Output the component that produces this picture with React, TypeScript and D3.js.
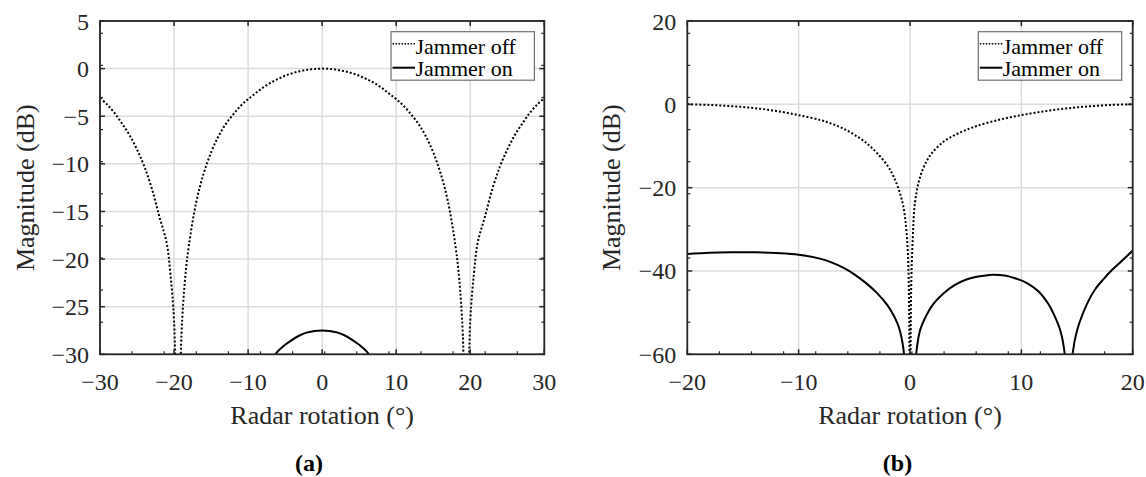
import React from 'react';
import * as d3 from 'd3';

// ---------- Panel (a) data ----------
const A_X_TICKS = [-30, -20, -10, 0, 10, 20, 30];
const A_Y_TICKS = [5, 0, -5, -10, -15, -20, -25, -30];
const A_OFF_X = [-30, -29, -28, -27, -26, -25, -24, -23, -22, -21, -20.5, -20, -19.45, -19, -18.5, -18, -17, -16, -15, -14, -13, -12, -11, -10, -9, -8, -7, -6, -5, -4, -3, -2, -1, 0,
  1, 2, 3, 4, 5, 6, 7, 8, 9, 10, 11, 12, 13, 14, 15, 16, 17, 18, 18.5, 19, 19.45, 20, 20.5, 21, 22, 23, 24, 25, 26, 27, 28, 29, 30];
const A_OFF_Y = [-3.1, -3.8, -4.7, -5.8, -7.0, -8.5, -10.3, -12.6, -15.5, -18.3, -21.5, -26.5, -45, -28, -22, -18.6, -14.0, -11.0, -8.8, -7.1, -5.8, -4.8, -3.9, -3.2, -2.6, -2.0, -1.5, -1.1, -0.75, -0.48, -0.27, -0.12, -0.03, 0,
  -0.03, -0.12, -0.27, -0.48, -0.75, -1.1, -1.5, -2.0, -2.6, -3.2, -3.9, -4.8, -5.8, -7.1, -8.8, -11.0, -14.0, -18.6, -22, -28, -45, -26.5, -21.5, -18.3, -15.5, -12.6, -10.3, -8.5, -7.0, -5.8, -4.7, -3.8, -3.1];
const A_ON_X = [-7, -6.3, -6, -5, -4, -3, -2, -1, 0, 1, 2, 3, 4, 5, 6, 6.3, 7];
const A_ON_Y = [-31.2, -30, -29.7, -29.0, -28.45, -28.0, -27.7, -27.55, -27.5, -27.55, -27.7, -28.0, -28.45, -29.0, -29.7, -30, -31.2];

// ---------- Panel (b) data ----------
const B_X_TICKS = [-20, -10, 0, 10, 20];
const B_Y_TICKS = [20, 0, -20, -40, -60];
const B_OFF_X = [-20, -18, -16, -14, -12, -10, -8, -7, -6, -5, -4, -3, -2, -1.5, -1, -0.6, -0.3, -0.12, 0,
  0.1, 0.25, 0.45, 0.9, 1.5, 2, 3, 4, 5, 6, 8, 10, 12, 14, 16, 18, 20];
const B_OFF_Y = [0, -0.15, -0.45, -0.9, -1.6, -2.6, -3.8, -4.7, -5.8, -7.3, -9.1, -11.6, -14.8, -17.2, -20.5, -24.5, -31, -42, -80,
  -45, -32, -23.5, -17.5, -13.6, -11.6, -9.0, -7.4, -6.2, -5.2, -3.7, -2.6, -1.7, -1.0, -0.5, -0.15, 0];
const B_ON_X = [-20, -18, -16, -14, -12, -10, -8, -7, -6, -5, -4, -3, -2, -1.5, -1, -0.6, 0,
  0.55, 0.9, 1.5, 2.1, 3, 4, 5, 6, 7, 7.5, 8.5, 9.5, 10.5, 11.5, 12.4, 12.9, 13.5, 13.9, 14.25,
  14.6, 15.0, 15.9, 16.6, 17.4, 18.2, 18.9, 20];
const B_ON_Y = [-35.9, -35.6, -35.5, -35.5, -35.7, -36.1, -37.1, -38.0, -39.2, -40.8, -42.8, -45.2, -48.3, -50.5, -53.5, -58.5, -80,
  -60, -54.3, -50.5, -47.9, -45.4, -43.4, -42.1, -41.4, -41.0, -40.9, -41.1, -41.8, -42.9, -44.8, -47.8, -50.3, -54.3, -60, -80,
  -60, -54.3, -47.9, -44.5, -41.9, -39.6, -37.9, -35.1];

const LEGEND = ['Jammer off', 'Jammer on'];
const X_LABEL = 'Radar rotation (\u00B0)';
const Y_LABEL = 'Magnitude (dB)';

const FONT = 'Liberation Serif';

const fmt = (v: number) => (v < 0 ? '\u2212' + Math.abs(v) : String(v));

type PanelProps = {
  id: string;
  left: number; right: number; top: number; bottom: number;
  xDomain: [number, number]; yDomain: [number, number];
  xTicks: number[]; yTicks: number[];
  offX: number[]; offY: number[]; onX: number[]; onY: number[];
  legendX: number; ylabelX: number; captionX: number; caption: string;
};

function Panel(p: PanelProps) {
  const x = d3.scaleLinear().domain(p.xDomain).range([p.left, p.right]);
  const y = d3.scaleLinear().domain(p.yDomain).range([p.bottom, p.top]);
  const line = d3.line<[number, number]>().x(d => x(d[0])).y(d => y(d[1])).curve(d3.curveCatmullRom.alpha(0.5));
  const offPts = p.offX.map((v, i) => [v, p.offY[i]] as [number, number]);
  const onPts = p.onX.map((v, i) => [v, p.onY[i]] as [number, number]);
  const minorStep = 32.1;
  const minorX = d3.range(p.left + minorStep, p.right - 2, minorStep);
  const minorY = d3.range(p.bottom - minorStep, p.top + 2, -minorStep);
  const axisColor = '#262626';
  const majLen = 5, minLen = 3;
  const cx = (p.left + p.right) / 2;
  const cy = (p.top + p.bottom) / 2;
  const lx = p.legendX, ly = 31.7, lw = 143.4, lh = 48.5;
  const txt = { fontFamily: FONT };
  return (
    <g>
      <defs>
        <clipPath id={'clip-' + p.id}>
          <rect x={p.left} y={p.top} width={p.right - p.left} height={p.bottom - p.top} />
        </clipPath>
      </defs>
      {/* grid */}
      {p.xTicks.map(t => (
        <line key={'gx' + t} x1={x(t)} x2={x(t)} y1={p.top} y2={p.bottom} stroke="#dcdcdc" strokeWidth={1.5} />
      ))}
      {p.yTicks.map(t => (
        <line key={'gy' + t} x1={p.left} x2={p.right} y1={y(t)} y2={y(t)} stroke="#dcdcdc" strokeWidth={1.5} />
      ))}
      {/* curves */}
      <g clipPath={`url(#clip-${p.id})`}>
        <path d={line(offPts) || ''} fill="none" stroke="#000" strokeWidth={2} strokeDasharray="2 2" />
        <path d={line(onPts) || ''} fill="none" stroke="#000" strokeWidth={2} />
      </g>
      {/* ticks */}
      {p.xTicks.map(t => (
        <g key={'tx' + t}>
          <line x1={x(t)} x2={x(t)} y1={p.bottom} y2={p.bottom - majLen} stroke={axisColor} strokeWidth={1.5} />
          <line x1={x(t)} x2={x(t)} y1={p.top} y2={p.top + majLen} stroke={axisColor} strokeWidth={1.5} />
          <text x={x(t)} y={p.bottom + 36} textAnchor="middle" fontSize={24} style={txt} fill="#262626">{fmt(t)}</text>
        </g>
      ))}
      {p.yTicks.map(t => (
        <g key={'ty' + t}>
          <line x1={p.left} x2={p.left + majLen} y1={y(t)} y2={y(t)} stroke={axisColor} strokeWidth={1.5} />
          <line x1={p.right} x2={p.right - majLen} y1={y(t)} y2={y(t)} stroke={axisColor} strokeWidth={1.5} />
          <text x={p.left - 11} y={y(t) + 8.5} textAnchor="end" fontSize={24} style={txt} fill="#262626">{fmt(t)}</text>
        </g>
      ))}
      {minorX.map((px, i) => (
        <line key={'mx' + i} x1={px} x2={px} y1={p.bottom} y2={p.bottom - minLen} stroke={axisColor} strokeWidth={1.2} />
      ))}
      {minorY.map((py, i) => (
        <g key={'my' + i}>
          <line x1={p.left} x2={p.left + minLen} y1={py} y2={py} stroke={axisColor} strokeWidth={1.2} />
          <line x1={p.right} x2={p.right - minLen} y1={py} y2={py} stroke={axisColor} strokeWidth={1.2} />
        </g>
      ))}
      {/* box */}
      <rect x={p.left} y={p.top} width={p.right - p.left} height={p.bottom - p.top} fill="none" stroke={axisColor} strokeWidth={1.8} />
      {/* legend */}
      <rect x={lx} y={ly} width={lw} height={lh} fill="#fff" stroke="#6e6e6e" strokeWidth={1.2} />
      <line x1={lx + 1.5} x2={lx + 24} y1={ly + 12} y2={ly + 12} stroke="#000" strokeWidth={1.5} strokeDasharray="1.5 1.5" />
      <line x1={lx + 1.5} x2={lx + 24} y1={ly + 36} y2={ly + 36} stroke="#000" strokeWidth={2} />
      <text x={lx + 24.5} y={ly + 21.8} fontSize={22} style={txt} fill="#000">{LEGEND[0]}</text>
      <text x={lx + 24.5} y={ly + 44.5} fontSize={22} style={txt} fill="#000">{LEGEND[1]}</text>
      {/* labels */}
      <text x={cx} y={424} textAnchor="middle" fontSize={26} style={txt} fill="#262626">{X_LABEL}</text>
      <text transform={`translate(${p.ylabelX},${cy}) rotate(-90)`} textAnchor="middle" fontSize={26} style={txt} fill="#262626">{Y_LABEL}</text>
      <text x={p.captionX} y={471} textAnchor="middle" fontSize={24} fontWeight="bold" style={txt} fill="#000">{p.caption}</text>
    </g>
  );
}

export default function App() {
  return (
    <svg width={1146} height={477} style={{ position: 'absolute', left: 0, top: 0, background: '#fff' }}>
      <rect width={1146} height={477} fill="#fff" />
      <Panel id="a" left={100} right={544.3} top={21} bottom={354.3}
        xDomain={[-30, 30]} yDomain={[-30, 5]} xTicks={A_X_TICKS} yTicks={A_Y_TICKS}
        offX={A_OFF_X} offY={A_OFF_Y} onX={A_ON_X} onY={A_ON_Y}
        legendX={391} ylabelX={34} captionX={309} caption="(a)" />
      <Panel id="b" left={687.3} right={1132.7} top={21} bottom={354.3}
        xDomain={[-20, 20]} yDomain={[-60, 20]} xTicks={B_X_TICKS} yTicks={B_Y_TICKS}
        offX={B_OFF_X} offY={B_OFF_Y} onX={B_ON_X} onY={B_ON_Y}
        legendX={978.3} ylabelX={620} captionX={897.5} caption="(b)" />
    </svg>
  );
}
